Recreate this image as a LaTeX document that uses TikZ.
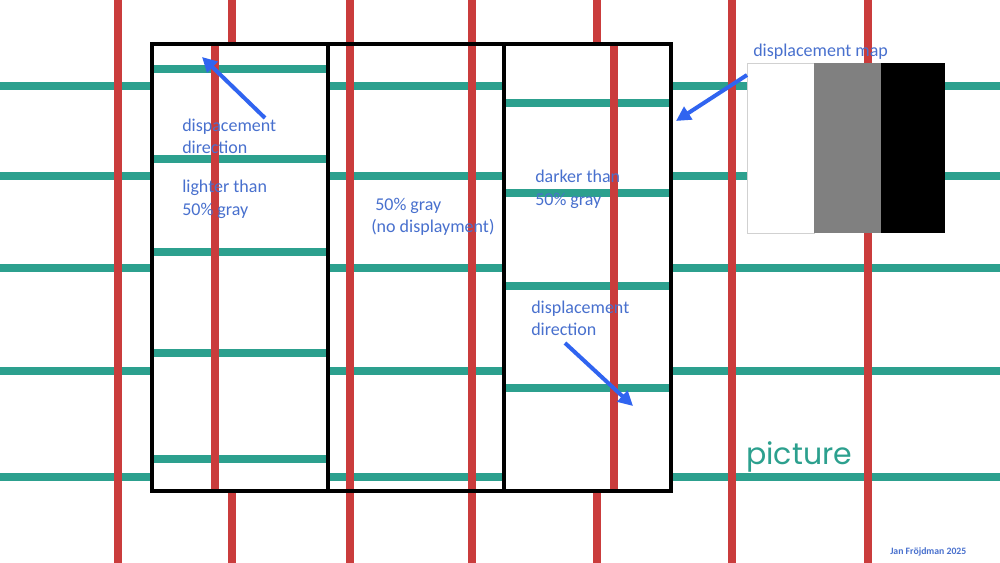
\documentclass[tikz,border=0pt]{standalone}
\usepackage{fontspec}
\setmainfont{Carlito}
\newfontfamily\picfont{Poppins}
\usetikzlibrary{arrows.meta}
\definecolor{gridred}{RGB}{202,60,60}
\definecolor{gridteal}{RGB}{44,160,142}
\definecolor{txtblue}{RGB}{72,112,206}
\definecolor{arrblue}{RGB}{48,100,240}
\begin{document}
\begin{tikzpicture}[x=0.75pt,y=-0.75pt,
  redline/.style={gridred,line width=6pt},
  tealline/.style={gridteal,line width=5.5pt},
  boxline/.style={black,line width=2.3pt},
  lbl/.style={text=txtblue,font=\fontsize{13.5}{16}\selectfont,inner sep=0pt,anchor=base west},
  piclbl/.style={text=gridteal,font=\picfont\fontsize{22.5}{26}\selectfont,inner sep=0pt,anchor=base west},
  sig/.style={text=txtblue,font=\bfseries\fontsize{7.3}{9}\selectfont,inner sep=0pt,anchor=base west},
  arr/.style={arrblue,line width=3pt,-{Triangle[length=11pt,width=11pt]}}]
\useasboundingbox (0,0) rectangle (1000,563);
\fill[white] (0,0) rectangle (1000,563);
% background grid
\foreach \y in {86,176,268,371,477} \draw[tealline] (0,\y) -- (1000,\y);
\foreach \x in {118,232,350,472,597,732,868} \draw[redline] (\x,0) -- (\x,563);
% box
\fill[white] (152,44) rectangle (671,491);
% left column (shifted up/left)
\foreach \y in {69,159,252,353,459} \draw[tealline] (152,\y) -- (328,\y);
\draw[redline] (215,44) -- (215,491);
% middle column (unchanged)
\foreach \y in {86,176,268,371,477} \draw[tealline] (328,\y) -- (504,\y);
\foreach \x in {350,472} \draw[redline] (\x,44) -- (\x,491);
% right column (shifted down/right)
\foreach \y in {103,193,286,388} \draw[tealline] (504,\y) -- (671,\y);
\draw[redline] (614,44) -- (614,491);
% borders
\draw[boxline] (152,44) rectangle (671,491);
\draw[boxline] (328,44) -- (328,491);
\draw[boxline] (504,44) -- (504,491);
% displacement map
\fill[white] (747,63) rectangle (814,233);
\draw[black!18,line width=0.5pt] (747,63) rectangle (814,233);
\fill[black!50] (814,63) rectangle (881,233);
\fill[black] (881,63) rectangle (945,233);
% labels
\node[lbl] (t1a) at (182,132) {dispacement};
\node[lbl] (t1b) at (182,154) {direction};
\node[lbl] (t2a) at (182,193) {lighter than};
\node[lbl] (t2b) at (182,215.5) {50\% gray};
\node[lbl] (t3a) at (375,211) {50\% gray};
\node[lbl] (t3b) at (371,233) {(no displayment)};
\node[lbl] (t4a) at (535,182.5) {darker than};
\node[lbl] (t4b) at (535,205) {50\% gray};
\node[lbl] (t5a) at (531,313) {displacement};
\node[lbl] (t5b) at (531,335) {direction};
\node[lbl] (t6) at (753,57) {displacement map};
\node[piclbl] (t7) at (746,464) {picture};
\node[sig] (t8) at (890,554) {Jan Fröjdman 2025};
% arrows
\coordinate (a1s) at (265,118);
\coordinate (a1e) at (202,57);
\coordinate (a2s) at (747,75);
\coordinate (a2e) at (676,121);
\coordinate (a3s) at (565,343);
\coordinate (a3e) at (633,406);
\draw[arr] (a1s) -- (a1e);
\draw[arr] (a2s) -- (a2e);
\draw[arr] (a3s) -- (a3e);
\end{tikzpicture}
\end{document}
